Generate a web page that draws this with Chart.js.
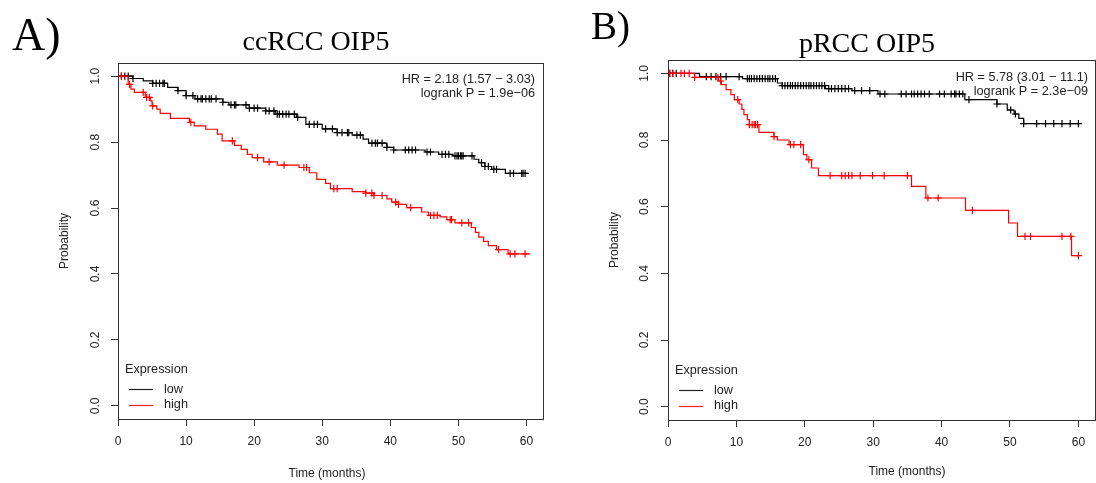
<!DOCTYPE html>
<html><head><meta charset="utf-8">
<script src="https://cdn.jsdelivr.net/npm/chart.js@4.4.1/dist/chart.umd.min.js"></script>
<style>
html,body{margin:0;padding:0;background:#fff;overflow:hidden;width:1096px;height:483px;}
#wrapA{position:absolute;left:0;top:0;width:548px;height:483px;}
#wrapB{position:absolute;left:548px;top:0;width:552px;height:483px;}
canvas{display:block;}
</style></head><body>
<div id="wrapA"><canvas id="cA" width="548" height="483"></canvas></div>
<div id="wrapB"><canvas id="cB" width="552" height="483"></canvas></div>
<script>
// ---- tick labels ----
const xTicks = [0, 10, 20, 30, 40, 50, 60];
const yTicks = [0, 0.2, 0.4, 0.6, 0.8, 1.0];
const groups = ['low', 'high'];

// ---- Panel A: ccRCC OIP5 ----
const aLowT = [0, 2.2, 3.7, 5.1, 7.3, 8.8, 10.0, 11.3, 15.4, 16.3, 19.3, 21.7, 23.1, 26.2, 27.6, 30.0, 32.2, 34.4, 36.0, 36.8, 39.5, 40.5, 45.1, 47.1, 49.2, 52.3, 53.0, 53.9, 54.9, 56.9, 60.3];
const aLowS = [1.0, 0.993, 0.986, 0.978, 0.966, 0.956, 0.941, 0.931, 0.921, 0.913, 0.903, 0.895, 0.885, 0.875, 0.854, 0.840, 0.829, 0.821, 0.809, 0.797, 0.784, 0.776, 0.770, 0.763, 0.758, 0.748, 0.738, 0.726, 0.717, 0.705, 0.705];
const aLowCens = [0.5, 1.0, 1.5, 2.2, 5.1, 5.6, 6.1, 6.6, 6.8, 8.8, 10.0, 11.0, 11.7, 12.2, 12.4, 12.9, 13.4, 13.7, 14.4, 15.4, 16.6, 17.1, 17.3, 18.8, 19.3, 20.0, 20.5, 21.7, 22.2, 22.9, 23.4, 23.7, 24.2, 24.7, 25.1, 25.9, 26.4, 28.1, 28.8, 29.3, 30.5, 31.5, 32.2, 32.9, 33.7, 33.9, 35.1, 35.6, 37.3, 37.8, 38.1, 38.8, 39.5, 40.5, 42.2, 42.7, 43.2, 43.7, 45.4, 45.9, 47.6, 48.1, 48.6, 49.5, 49.8, 50.0, 50.3, 50.5, 50.7, 52.0, 53.4, 53.9, 54.4, 55.2, 55.6, 57.6, 58.1, 59.3, 59.5, 59.8];
const aHighT = [0, 1.5, 1.9, 2.4, 4.0, 4.8, 5.0, 5.7, 6.2, 7.7, 10.5, 11.2, 12.9, 14.6, 15.3, 17.1, 18.1, 19.0, 19.7, 21.4, 23.4, 26.6, 28.1, 29.2, 30.5, 31.2, 34.4, 36.4, 37.6, 39.5, 40.2, 41.2, 42.4, 44.6, 45.6, 47.3, 48.3, 49.5, 51.9, 52.5, 53.0, 53.7, 54.4, 55.6, 57.3, 60.5];
const aHighS = [1.0, 0.975, 0.961, 0.951, 0.936, 0.925, 0.910, 0.900, 0.887, 0.872, 0.860, 0.849, 0.839, 0.824, 0.804, 0.790, 0.778, 0.763, 0.753, 0.740, 0.730, 0.723, 0.707, 0.687, 0.675, 0.659, 0.650, 0.645, 0.638, 0.628, 0.618, 0.611, 0.601, 0.588, 0.578, 0.573, 0.565, 0.555, 0.541, 0.526, 0.512, 0.499, 0.486, 0.474, 0.461, 0.461];
const aHighCens = [0.5, 1.7, 3.7, 4.2, 4.6, 5.1, 10.7, 16.8, 20.5, 22.2, 24.4, 27.3, 27.7, 31.7, 32.2, 36.4, 37.3, 37.6, 38.8, 40.8, 41.2, 43.0, 45.9, 46.4, 46.9, 48.8, 49.0, 50.5, 51.5, 55.9, 57.6, 58.3, 59.8];

// ---- Panel B: pRCC OIP5 ----
const bLowT = [0, 4.6, 10.9, 16.0, 16.7, 23.0, 26.9, 30.7, 43.4, 48.1, 49.6, 50.6, 51.3, 52.0, 60.2];
const bLowS = [1.0, 0.990, 0.984, 0.971, 0.963, 0.954, 0.948, 0.938, 0.921, 0.908, 0.890, 0.878, 0.865, 0.849, 0.849];
const bLowCens = [0.25, 0.7, 1.2, 5.6, 6.3, 7.0, 7.7, 8.5, 10.4, 11.6, 11.9, 12.2, 12.6, 13.0, 13.4, 13.8, 14.2, 14.6, 14.9, 15.3, 15.7, 16.7, 17.1, 17.5, 17.9, 18.2, 18.6, 19.0, 19.4, 19.8, 20.2, 20.6, 20.9, 21.3, 21.7, 22.1, 22.5, 22.9, 23.5, 23.9, 24.4, 24.9, 25.4, 25.9, 26.4, 27.3, 28.3, 29.5, 31.0, 31.7, 34.1, 34.8, 35.6, 36.0, 36.5, 37.0, 37.5, 38.2, 39.7, 40.4, 41.4, 41.9, 42.1, 42.6, 43.1, 44.0, 48.1, 50.1, 50.8, 52.0, 53.9, 55.2, 56.4, 57.6, 58.8, 60.0];
const bHighT = [0, 3.9, 7.4, 7.8, 8.5, 9.2, 9.7, 10.4, 10.8, 11.1, 11.6, 11.9, 13.3, 15.5, 16.0, 17.7, 19.8, 20.3, 21.0, 22.0, 35.6, 37.7, 43.5, 49.8, 51.1, 59.0, 60.0];
const bHighS = [1.0, 0.988, 0.977, 0.966, 0.951, 0.936, 0.921, 0.908, 0.892, 0.876, 0.861, 0.846, 0.823, 0.810, 0.800, 0.786, 0.756, 0.741, 0.716, 0.693, 0.661, 0.626, 0.589, 0.551, 0.511, 0.453, 0.453];
const bHighCens = [0.25, 0.7, 1.9, 2.4, 3.1, 3.9, 7.3, 7.7, 10.2, 11.9, 12.3, 12.6, 12.8, 13.1, 15.5, 17.9, 18.4, 19.4, 20.6, 23.7, 25.4, 25.9, 26.4, 26.9, 28.1, 29.9, 31.6, 35.0, 38.0, 39.5, 44.5, 52.2, 53.0, 57.6, 58.9, 60.0];

function survAt(T, S, t) {
  let v = S[0];
  for (let i = 0; i < T.length; i++) { if (T[i] <= t) v = S[i]; else break; }
  return v;
}
function pts(T, S) { return T.map((t, i) => ({x: t, y: S[i]})); }
function cens(T, S, C) { return C.map(t => ({x: t, y: survAt(T, S, t)})); }

const SANS = '"Liberation Sans", Arial, sans-serif';
const SERIF = '"Liberation Serif", "Times New Roman", serif';

function makePanel(id, p) {
  const overlay = {
    id: 'rstyle' + id,
    afterDraw(chart) {
      const ctx = chart.ctx, a = chart.chartArea;
      const ys = chart.scales.y;
      ctx.save();
      // frame
      ctx.strokeStyle = '#333'; ctx.lineWidth = 1;
      ctx.strokeRect(Math.round(a.left) + 0.5, Math.round(a.top) + 0.5, Math.round(a.right - a.left), Math.round(a.bottom - a.top));
      // y tick labels (rotated, R style)
      ctx.fillStyle = '#222';
      ctx.font = '12px ' + SANS;
      ctx.textAlign = 'center'; ctx.textBaseline = 'middle';
      yTicks.forEach(v => {
        const y = ys.getPixelForValue(v);
        ctx.save(); ctx.translate(p.yLabX, y); ctx.rotate(-Math.PI / 2);
        ctx.fillText(v.toFixed(1), 0, 0); ctx.restore();
      });
      // axis titles
      ctx.fillText('Time (months)', p.xTitle[0], p.xTitle[1]);
      ctx.save(); ctx.translate(p.yTitleX, (a.top + a.bottom) / 2); ctx.rotate(-Math.PI / 2);
      ctx.fillText('Probability', 0, 0); ctx.restore();
      // HR text
      ctx.font = '12.7px ' + SANS;
      ctx.textAlign = 'right';
      ctx.fillText(p.hr, p.hrX, p.hrY);
      ctx.fillText(p.lr, p.hrX, p.hrY + 14);
      // legend
      ctx.textAlign = 'left';
      ctx.fillText('Expression', p.leg[0], p.leg[1]);
      const cols = ['#222', '#ff2020'];
      groups.forEach((g, i) => {
        const yy = p.leg[1] + 20 + i * 15.5;
        ctx.strokeStyle = cols[i]; ctx.lineWidth = 1.2;
        ctx.beginPath(); ctx.moveTo(p.leg[0] + 4, Math.round(yy) + 0.5); ctx.lineTo(p.leg[0] + 28, Math.round(yy) + 0.5); ctx.stroke();
        ctx.fillStyle = '#222';
        ctx.fillText(g, p.leg[0] + 39, yy);
      });
      // panel titles
      ctx.fillStyle = '#000';
      ctx.textBaseline = 'alphabetic';
      ctx.font = p.letterSize + 'px ' + SERIF;
      ctx.textAlign = 'left';
      ctx.fillText(p.letter, p.letterPos[0], p.letterPos[1]);
      ctx.font = '28px ' + SERIF;
      ctx.textAlign = 'center';
      ctx.fillText(p.title, p.titlePos[0], p.titlePos[1]);
      ctx.restore();
    }
  };
  return new Chart(document.getElementById(id), {
    type: 'line',
    data: {
      datasets: [
        {label: 'high censored', data: cens(p.hT, p.hS, p.hC), showLine: false, pointStyle: 'cross', pointRadius: 3.6, pointBorderColor: '#ff0000', pointBorderWidth: 1.2, borderColor: '#ff0000'},
        {label: 'high', data: pts(p.hT, p.hS), stepped: 'before', borderColor: '#ff0000', borderWidth: 1.2, pointRadius: 0, fill: false},
        {label: 'low censored', data: cens(p.lT, p.lS, p.lC), showLine: false, pointStyle: 'cross', pointRadius: 3.6, pointBorderColor: '#000', pointBorderWidth: 1.2, borderColor: '#000'},
        {label: 'low', data: pts(p.lT, p.lS), stepped: 'before', borderColor: '#000', borderWidth: 1.2, pointRadius: 0, fill: false}
      ]
    },
    options: {
      responsive: false, animation: false, devicePixelRatio: 1,
      layout: {padding: p.pad},
      plugins: {legend: {display: false}, tooltip: {enabled: false}},
      elements: {line: {tension: 0}},
      scales: {
        x: {
          type: 'linear', min: 0, max: 62.4,
          afterBuildTicks: s => { s.ticks = xTicks.map(v => ({value: v})); },
          afterFit: s => { s.height = 60; },
          grid: {drawOnChartArea: false, drawTicks: true, tickLength: 7, color: '#333'},
          border: {display: false},
          ticks: {color: '#222', font: {family: SANS, size: 12}, padding: 8, maxRotation: 0, autoSkip: false, callback: v => String(v)}
        },
        y: {
          type: 'linear', min: -0.04, max: 1.04,
          afterBuildTicks: s => { s.ticks = yTicks.map(v => ({value: v})); },
          afterFit: s => { s.width = 70; },
          grid: {drawOnChartArea: false, drawTicks: true, tickLength: 7, color: '#333'},
          border: {display: false},
          ticks: {display: false}
        }
      }
    },
    plugins: [overlay]
  });
}

makePanel('cA', {
  lT: aLowT, lS: aLowS, lC: aLowCens, hT: aHighT, hS: aHighS, hC: aHighCens,
  pad: {left: 48, top: 63, right: 4, bottom: 4},
  yLabX: 96, yTitleX: 65, xTitle: [327, 474],
  hr: 'HR = 2.18 (1.57 \u2212 3.03)', lr: 'logrank P = 1.9e\u221206', hrX: 535, hrY: 79,
  leg: [125, 369],
  letter: 'A)', letterSize: 46, letterPos: [12, 50],
  title: 'ccRCC OIP5', titlePos: [316, 50]
});
makePanel('cB', {
  lT: bLowT, lS: bLowS, lC: bLowCens, hT: bHighT, hS: bHighS, hC: bHighCens,
  pad: {left: 50, top: 60, right: 2, bottom: 3},
  yLabX: 97, yTitleX: 67, xTitle: [359, 472],
  hr: 'HR = 5.78 (3.01 \u2212 11.1)', lr: 'logrank P = 2.3e\u221209', hrX: 540, hrY: 77,
  leg: [127, 370],
  letter: 'B)', letterSize: 39, letterPos: [43, 39],
  title: 'pRCC OIP5', titlePos: [319, 52]
});
</script>
</body></html>
